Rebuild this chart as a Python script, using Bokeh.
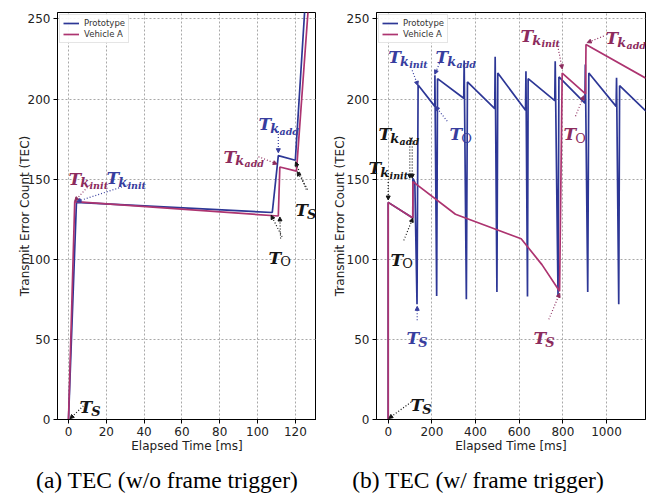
from bokeh.plotting import figure
from bokeh.models import (Label, Arrow, NormalHead, Legend, LegendItem, Div,
                          Range1d, FixedTicker)
from bokeh.layouts import row, column
from bokeh.embed import file_html
from bokeh.resources import INLINE

# ---------------- data ----------------
# (a) TEC without frame trigger
a_proto_t = [0, 4.2, 107.8, 111.0, 120.0, 125.0]
a_proto_tec = [0, 135.5, 129.2, 164.7, 161.8, 256]
a_veh_t = [0, 3.3, 111.0, 111.8, 120.6, 126.8]
a_veh_tec = [0, 136.0, 127.0, 157.6, 155.0, 256]

# (b) TEC with frame trigger
b_proto_t = [0, 0, 112.7, 113, 122, 132, 137, 213.6, 214, 222, 226, 346, 348, 358, 363,
             488, 490, 498, 502, 629, 631, 638, 641, 763, 765, 778, 782, 901, 903, 914,
             919, 1044, 1046, 1056, 1060, 1182]
b_proto_tec = [0, 135.5, 125.7, 150.5, 148, 72, 208.7, 195.4, 214.8, 77, 212.7, 200.5, 224, 75, 210.7,
               194, 226.4, 79.6, 216.2, 193, 217.4, 76.8, 212.7, 199, 223.5, 77, 213.8, 197.4, 221.5, 79.6,
               216.2, 195.4, 213.3, 72, 208.3, 192.3]
b_veh_t = [0, 0, 112.7, 113, 308, 609, 705, 785, 797, 904, 906, 1180]
b_veh_tec = [0, 135.5, 125.7, 148.5, 128.1, 112.8, 96.5, 80, 216.2, 203.2, 234.1, 213]

series_names = ["Prototype", "Vehicle A"]
a_xticks = [0, 20, 40, 60, 80, 100, 120]
b_xticks = [0, 200, 400, 600, 800, 1000]
yticks = [0, 50, 100, 150, 200, 250]
captions = ["(a) TEC (w/o frame trigger)", "(b) TEC (w/ frame trigger)"]

BLU = "#2d3796"
MAG = "#ad3470"
BLU_T = "#373d9e"
MAG_T = "#8c2b5d"
BLK_T = "#151515"

# annotations: (sub, subsub, color, x, y, arrows[(xs, ys, xe, ye)])
a_notes = [
    ("k", "init", MAG_T, 0.0, 150.4, [(11.1, 146.3, 3.3, 136.4)]),
    ("k", "init", BLU_T, 20.1, 150.6, [(32.8, 146.9, 4.4, 136.0)]),
    ("k", "add", BLU_T, 100.5, 184.4, [(111.0, 180.0, 111.0, 166.5)]),
    ("k", "add", MAG_T, 82.0, 164.0, [(100.5, 164.0, 110.4, 159.4)]),
    ("S", None, BLK_T, 120.0, 130.6, [(125.8, 143.5, 120.1, 160.8), (126.5, 143.5, 121.0, 154.6)]),
    ("O", None, BLK_T, 105.8, 101.0, [(113.0, 114.0, 107.2, 127.5), (112.2, 113.0, 111.8, 126.4)]),
    ("S", None, BLK_T, 5.8, 7.7, [(9.0, 9.8, 0.8, 0.5)]),
]
b_notes = [
    ("k", "init", BLU_T, 0, 226, [(110, 217.9, 135.6, 208.5)]),
    ("k", "add", BLU_T, 216.7, 226, [(235, 222.3, 213.5, 215.5)]),
    ("O", None, BLU_T, 280.8, 178, [(270.3, 186.2, 216.7, 195.4)]),
    ("k", "add", BLK_T, -44, 178, [(99, 176, 99, 150.6), (110, 176, 110, 150.6)]),
    ("k", "init", BLK_T, -90, 156.7, [(0, 153.8, 0, 137)]),
    ("O", None, BLK_T, 10.5, 99.6, [(71.5, 111.8, 113, 125.7)]),
    ("S", None, BLU_T, 83.8, 50.6, [(132.8, 61.9, 132.8, 70.6)]),
    ("S", None, MAG_T, 665.6, 50.6, [(735.7, 62.5, 786, 78.8)]),
    ("S", None, BLK_T, 102, 8.9, [(105.4, 10.9, 2.7, 0.7)]),
    ("k", "init", MAG_T, 606, 239.3, [(774, 235, 797, 218.8)]),
    ("k", "add", MAG_T, 995.4, 237.8, [(987.6, 239.3, 911.6, 235.2)]),
    ("O", None, MAG_T, 803, 178, [(858, 189.3, 896, 202)]),
]

SERIF = "DejaVu Serif"
SANS = "DejaVu Sans"


def add_note(p, sub, subsub, color, x, y, arrows):
    # a label that starts left of the frame is placed in the side panel so it is not clipped
    place = "left" if x < p.x_range.start else "center"
    p.add_layout(Label(x=x, y=y, text="T", text_font=SERIF, text_font_size="17px",
                       text_font_style="bold italic", text_color=color,
                       text_baseline="alphabetic", text_align="left"), place)
    style = "normal" if sub == "O" else "bold italic"
    p.add_layout(Label(x=x, y=y, x_offset=11.7, y_offset=-4, text=sub, text_font=SERIF,
                       text_font_size="13px", text_font_style=style, text_color=color,
                       text_baseline="alphabetic", text_align="left"))
    if subsub:
        p.add_layout(Label(x=x, y=y, x_offset=21, y_offset=-7, text=subsub, text_font=SERIF,
                           text_font_size="9.5px", text_font_style="bold italic",
                           text_color=color,
                           text_baseline="alphabetic", text_align="left"))
    for xs, ys, xe, ye in arrows:
        p.add_layout(Arrow(x_start=xs, y_start=ys, x_end=xe, y_end=ye,
                           line_color=color, line_width=1.2, line_dash="1 2",
                           end=NormalHead(size=4, fill_color=color, line_color=color,
                                          line_width=1)))


def make_fig(width, x_range, xticks, min_left, min_top, min_right, ylab_standoff,
             pt, py, vt, vy, notes):
    p = figure(width=width, height=455, output_backend="svg", toolbar_location=None,
               x_range=Range1d(*x_range), y_range=Range1d(0, 254),
               min_border_left=min_left, min_border_top=min_top,
               min_border_right=min_right, min_border_bottom=36)
    p.outline_line_color = "black"
    p.outline_line_width = 1
    r1 = p.line(pt, py, line_color=BLU, line_width=1.7)
    r2 = p.line(vt, vy, line_color=MAG, line_width=1.7)
    for ax in (p.xaxis[0], p.yaxis[0]):
        ax.major_tick_out = 4
        ax.major_tick_in = 0
        ax.minor_tick_out = 0
        ax.minor_tick_in = 0
        ax.axis_line_color = "black"
        ax.major_tick_line_color = "black"
        ax.major_label_text_font = SANS
        ax.major_label_text_font_size = "12px"
        ax.major_label_text_color = "#222222"
        ax.axis_label_text_font = SANS
        ax.axis_label_text_font_size = "12px"
        ax.axis_label_text_font_style = "normal"
        ax.axis_label_text_color = "#222222"
        ax.major_label_standoff = 3
    p.xaxis[0].axis_label_standoff = 0
    p.yaxis[0].axis_label_standoff = ylab_standoff
    p.xaxis[0].ticker = FixedTicker(ticks=xticks)
    p.yaxis[0].ticker = FixedTicker(ticks=yticks)
    p.xaxis[0].axis_label = "Elapsed Time [ms]"
    p.yaxis[0].axis_label = "Transmit Error Count (TEC)"
    for g in (p.xgrid[0], p.ygrid[0]):
        g.grid_line_color = "#a8a8a8"
        g.grid_line_dash = "2 2"
        g.grid_line_width = 1
    for n in notes:
        add_note(p, *n)
    leg = Legend(items=[LegendItem(label=series_names[0], renderers=[r1]),
                        LegendItem(label=series_names[1], renderers=[r2])],
                 location="top_left", margin=2, padding=3, spacing=1,
                 label_height=10, glyph_height=10, glyph_width=16, label_standoff=5,
                 label_text_font=SANS, label_text_font_size="8.5px",
                 label_text_color="#333333",
                 border_line_color="#cccccc", border_line_width=1,
                 background_fill_alpha=0.9)
    p.add_layout(leg)
    return p


def caption_div(text, width, shift):
    html = ('<div style="display: block; width: %dpx; font-family: \'Liberation Serif\'; '
            'font-size: 23.5px; line-height: 26px; text-align: center; color: black; '
            'padding-top: 12px; position: relative; left: %dpx;">%s</div>'
            % (width, shift, text))
    return Div(text=html, width=width, height=27, margin=0)


p1 = make_fig(316, (-5.82, 131.2), a_xticks, 57, 12, 0, -7,
              a_proto_t, a_proto_tec, a_veh_t, a_veh_tec, a_notes)
p2 = make_fig(330, (-53.6, 1178.6), b_xticks, 56, 4, 1, -3,
              b_proto_t, b_proto_tec, b_veh_t, b_veh_tec, b_notes)

d1 = caption_div(captions[0], 320, 7)
d2 = caption_div(captions[1], 326, -5)

layout = column(row(p1, p2), row(d1, d2))
open("out.html", "w").write(file_html(layout, INLINE))
